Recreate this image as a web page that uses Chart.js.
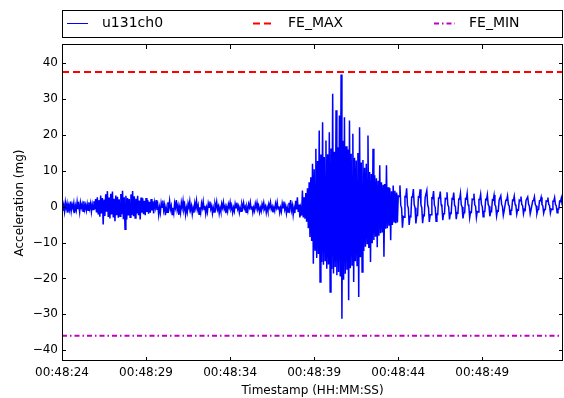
<!DOCTYPE html>
<html>
<head>
<meta charset="utf-8">
<script src="https://cdn.jsdelivr.net/npm/chart.js@4.4.1/dist/chart.umd.min.js"></script>
<style>
  body { margin: 0; background: #fff; }
  #wrap { width: 564px; height: 398px; }
</style>
</head>
<body>
<div id="wrap"><canvas id="accel" width="564" height="398"></canvas></div>
<script>
// sampling of the u131ch0 trace, seconds after 00:48:24
const sampleStep = 0.05;
const xMin = 0;
const xMax = 29.8;
const xTicks = [0, 5, 10, 15, 20, 25];
const xTickLabels = ['00:48:24', '00:48:29', '00:48:34', '00:48:39', '00:48:44', '00:48:49'];
const yTicks = [-40, -30, -20, -10, 0, 10, 20, 30, 40];

const feMax = 37.5;
const feMin = -36;

// acceleration (mg)
const quietStart = [
  0.9, -1.1, 0.4, -1.4, 1.2, -0.6, 0.8, -1.7, 0.3, -0.9, 1.4, -1.2, 0.6, -0.4, 1.0, -1.8, 0.2, -1.0, 1.3, -0.7,
  0.5, -1.5, 1.1, -0.3, 0.7, -1.3, 1.5, -0.8, 0.4, -1.1
];
const firstBurst = [
  0.7, -1.0, 1.2, -0.5, 0.9, -1.4, 0.6, -0.8, 1.5, -0.7,
  2.1, -1.6, 2.6, -2.0, 1.8, -2.8, 3.1, -1.9, 2.4, -5.0,
  2.0, -2.6, 3.4, -1.4, 4.3, -2.9, 2.5, -3.3, 3.6, -2.2,
  4.2, -3.0, 2.2, -4.1, 3.1, -2.4, 2.7, -3.1, 2.0, -2.7,
  3.5, -2.1, 4.4, -3.5, 2.6, -6.3, 3.0, -3.6, 2.4, -2.5,
  2.1, -3.0, 3.4, -2.3, 4.3, -2.7, 2.9, -3.2, 2.2, -1.9,
  3.0, -2.4, 1.7, -3.6, 2.5, -1.7, 2.3, -2.1, 1.6, -2.4,
  2.4, -1.5, 1.8, -2.0, 1.3, -1.7, 2.1, -1.1, 1.5, -1.9
];
const steadyWave = [
  1.1, -0.3, 1.8, -0.9, 0.3, -2.3, -0.2, -1.7,
  1.0, -0.2, 1.7, -1.0, 0.4, -2.4, -0.3, -1.6,
  1.2, -0.4, 1.6, -0.8, 0.2, -2.2, -0.3, -1.8,
  1.0, -0.3, 1.8, -0.9, 0.3, -2.3, -0.2, -1.7,
  1.1, -0.3, 1.6, -0.8, 0.3, -2.2, -0.3, -1.6,
  0.9, -0.2, 1.5, -0.9, 0.2, -2.1, -0.4, -1.7,
  1.0, -0.3, 1.6, -0.8, 0.3, -2.1, -0.2, -1.6,
  0.9, -0.3, 1.4, -0.8, 0.2, -2.0, -0.3, -1.5,
  0.9, -0.2, 1.4, -0.7, 0.2, -1.9, -0.3, -1.5,
  0.8, -0.3, 1.3, -0.8, 0.1, -1.9, -0.3, -1.4,
  0.8, -0.3, 1.2, -0.7, 0.1, -1.8, -0.2, -1.4,
  0.7, -0.2, 1.2, -0.7, 0.0, -1.7, -0.3, -1.3,
  0.8, -0.3, 1.1, -0.7, 0.1, -1.7, -0.3, -1.3,
  0.7, -0.3, 1.1, -0.6, 0.0, -1.6, -0.2, -1.3,
  0.7, -0.2, 1.2, -0.7, 0.1, -1.7, -0.3, -1.2,
  0.8, -0.3, 1.1, -0.7, 0.0, -1.6, -0.3, -1.3,
  0.7, -0.3, 1.1, -0.6, 0.1, -1.7, -0.2, -1.3,
  0.7, -0.2, 1.2, -0.7, 0.0, -1.6, -0.3, -1.2,
  0.8, -0.3, 1.2, -0.7, 0.1, -1.7, -0.3, -1.4,
  0.9, -0.3, 1.4, -0.8, 0.2, -1.9, -0.3, -1.5,
  1.1, -0.5, 1.8, -1.0, 0.3, -2.3, -0.4, -1.8,
  1.6, -0.8, 2.6, -1.5, 0.6, -3.0, -0.6, -2.5
];
const mainBurst = [
  4.5, -3.0, 2.6, -3.4, 3.8, -4.2, 5.1, -6.0, 6.8, -8.5,
  8.2, -9.6, 11.9, -15.9, 10.4, -12.1, 16.1, -14.3, 12.7, -13.2,
  21.2, -21.0, 14.5, -15.4, 23.5, -16.2, 13.8, -15.0, 18.4, -17.3,
  14.6, -16.1, 20.7, -23.8, 16.2, -17.4, 31.4, -18.6, 15.3, -16.8,
  26.8, -19.1, 16.5, -18.2, 25.4, -19.5, 36.8, -31.2, 18.3, -20.4,
  24.9, -18.7, 16.8, -17.6, 15.9, -26.1, 24.0, -17.2, 14.7, -16.3,
  20.3, -21.0, 13.6, -15.2, 12.8, -16.4, 14.9, -25.2, 22.1, -14.1,
  12.3, -18.2, 13.0, -12.4, 10.8, -11.2, 11.9, -10.3, 19.8, -11.5,
  9.6, -15.4, 9.1, -10.2, 16.1, -9.3, 8.7, -8.4, 7.9, -11.3,
  7.2, -8.1, 11.5, -7.4, 6.8, -7.2, 6.1, -14.0, 6.3, -6.2,
  11.5, -6.0, 5.4, -5.3, 5.1, -9.4, 4.3, -5.1, 5.9, -4.2,
  4.4, -4.6, 3.9, -4.4
];
const decayTail = [
  3.0, 2.8, 5.9, 0.4, -0.4, -5.9, -2.8, -3.0,
  2.8, 2.7, 5.1, 0.4, -0.4, -5.1, -2.7, -2.8,
  2.7, 2.7, 4.9, 0.5, -0.3, -4.7, -2.5, -2.5,
  2.7, 2.6, 4.8, 0.5, -0.3, -4.6, -2.4, -2.5,
  2.5, 2.5, 4.5, 0.5, -0.3, -4.3, -2.3, -2.3,
  2.4, 2.3, 4.3, 0.4, -0.2, -4.1, -2.1, -2.2,
  2.4, 2.4, 4.2, 0.6, -0.2, -3.8, -2.0, -2.0,
  2.3, 2.2, 4.0, 0.5, -0.1, -3.6, -1.8, -1.9,
  2.2, 2.1, 3.9, 0.4, 0.0, -3.5, -1.7, -1.8,
  2.1, 2.1, 3.7, 0.5, -0.1, -3.3, -1.7, -1.7,
  2.2, 2.1, 3.7, 0.6, 0.0, -3.1, -1.5, -1.6,
  2.1, 2.0, 3.6, 0.5, 0.1, -3.0, -1.4, -1.5,
  2.0, 2.0, 3.4, 0.6, 0.0, -2.8, -1.4, -1.4,
  2.0, 1.9, 3.3, 0.6, 0.1, -2.7, -1.3, -1.4,
  1.9, 1.8, 3.2, 0.5, 0.1, -2.6, -1.2, -1.3,
  1.8, 1.8, 3.0, 0.6, 0.0, -2.4, -1.2, -1.2,
  1.8, 1.8, 3.0, 0.6, 0.2, -2.2, -1.0, -1.0,
  1.8, 1.7, 2.9, 0.6, 0.2, -2.1, -0.9, -1.0,
  1.8, 1.6, 2.8, 0.6, 0.2, -2.0, -0.8, -1.0,
  1.7, 1.7, 2.7, 0.7, 0.1, -2.0, -0.9, -0.9,
  1.6, 1.7, 2.7, 0.6, 0.2, -1.9, -0.9, -0.8,
  1.6, 1.6, 2.6, 0.6, 0.2, -1.8, -0.8, -0.8,
  1.6, 1.5, 2.5, 0.6, 0.3, -1.8, -0.7, -0.8,
  1.5, 1.5, 2.5, 0.6, 0.2, -1.7, -0.7, -0.7,
  1.5, 1.4, 2.4, 0.5, 0.3
];

const signal = [].concat(quietStart, firstBurst, steadyWave, mainBurst, decayTail);
const tracePoints = signal.map((v, i) => ({ x: +(i * sampleStep).toFixed(2), y: v }));

const fontFamily = '"DejaVu Sans", sans-serif';

// matplotlib-like frame, inward ticks on all four sides, and the boxed legend on top
const mplFrame = {
  id: 'mplFrame',
  afterDraw(chart) {
    const { ctx, chartArea: a, scales } = chart;
    ctx.save();
    ctx.strokeStyle = '#000';
    ctx.lineWidth = 1;
    ctx.setLineDash([]);
    ctx.beginPath();
    yTicks.forEach(v => {
      const py = Math.round(scales.y.getPixelForValue(v)) + 0.5;
      ctx.moveTo(a.left, py); ctx.lineTo(a.left + 4, py);
      ctx.moveTo(a.right, py); ctx.lineTo(a.right - 4, py);
    });
    xTicks.forEach(v => {
      const px = Math.round(scales.x.getPixelForValue(v)) + 0.5;
      ctx.moveTo(px, a.bottom); ctx.lineTo(px, a.bottom - 4);
      ctx.moveTo(px, a.top); ctx.lineTo(px, a.top + 4);
    });
    ctx.stroke();
    ctx.strokeRect(a.left + 0.5, a.top - 0.5, a.right - a.left - 1, a.bottom - a.top);

    // legend
    ctx.fillStyle = '#fff';
    ctx.fillRect(a.left + 0.5, 10.5, a.right - a.left - 1, 27);
    ctx.strokeRect(a.left + 0.5, 10.5, a.right - a.left - 1, 27);
    const slots = [67, 253, 434];
    const cy = 23.5;
    ctx.font = '14px ' + fontFamily;
    ctx.textBaseline = 'middle';
    chart.data.datasets.forEach((ds, i) => {
      const x0 = slots[i];
      ctx.beginPath();
      ctx.setLineDash(ds.borderDash || []);
      ctx.strokeStyle = ds.borderColor;
      ctx.lineWidth = ds.borderDash ? ds.borderWidth : 1;
      ctx.moveTo(x0, cy); ctx.lineTo(x0 + 21, cy);
      ctx.stroke();
      ctx.setLineDash([]);
      ctx.fillStyle = '#000';
      ctx.fillText(ds.label, x0 + 35, cy);
    });
    ctx.restore();
  }
};

new Chart(document.getElementById('accel'), {
  type: 'line',
  data: {
    datasets: [{
      label: 'u131ch0',
      data: tracePoints,
      borderColor: '#0000ff',
      borderWidth: 1.5,
      pointRadius: 0,
      order: 2
    }, {
      label: 'FE_MAX',
      data: [{ x: xMin, y: feMax }, { x: xMax, y: feMax }],
      borderColor: '#ff0000',
      borderWidth: 2,
      borderDash: [7, 4],
      pointRadius: 0,
      order: 1
    }, {
      label: 'FE_MIN',
      data: [{ x: xMin, y: feMin }, { x: xMax, y: feMin }],
      borderColor: '#bf00bf',
      borderWidth: 2,
      borderDash: [5, 3, 1.5, 3],
      pointRadius: 0,
      order: 1
    }]
  },
  options: {
    responsive: false,
    animation: false,
    devicePixelRatio: 1,
    layout: { padding: { top: 45, right: 1, left: 0, bottom: 0 } },
    elements: { line: { tension: 0 } },
    scales: {
      x: {
        type: 'linear',
        min: xMin,
        max: xMax,
        afterBuildTicks: s => { s.ticks = xTicks.map(v => ({ value: v })); },
        afterFit: s => { s.height = 37; },
        grid: { display: false, drawTicks: false },
        border: { display: false },
        ticks: {
          autoSkip: false,
          maxRotation: 0,
          padding: 5,
          color: '#000',
          font: { family: fontFamily, size: 12 },
          callback: v => xTickLabels[xTicks.indexOf(v)]
        },
        title: {
          display: true,
          text: 'Timestamp (HH:MM:SS)',
          color: '#000',
          font: { family: fontFamily, size: 12 },
          padding: { top: 0, bottom: 0 }
        }
      },
      y: {
        min: -43,
        max: 45,
        afterBuildTicks: s => { s.ticks = yTicks.map(v => ({ value: v })); },
        afterFit: s => { s.width = 62; },
        grid: { display: false, drawTicks: false },
        border: { display: false },
        ticks: {
          padding: 4,
          color: '#000',
          font: { family: fontFamily, size: 12 },
          callback: v => (v < 0 ? '\u2212' + Math.abs(v) : String(v))
        },
        title: {
          display: true,
          text: 'Acceleration (mg)',
          color: '#000',
          font: { family: fontFamily, size: 12 },
          padding: { top: 13, bottom: 0 }
        }
      }
    },
    plugins: {
      legend: { display: false },
      tooltip: { enabled: false }
    }
  },
  plugins: [mplFrame]
});
</script>
</body>
</html>
